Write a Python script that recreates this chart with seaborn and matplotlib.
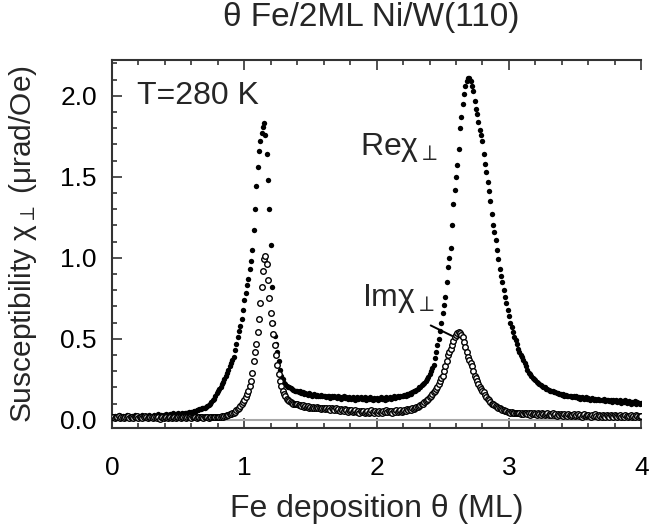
import numpy as np
import pandas as pd
import matplotlib
matplotlib.use('Agg')
import matplotlib.pyplot as plt
from matplotlib.ticker import MultipleLocator
import seaborn as sns

# Re chi_perp (filled dots), one value every 0.01 ML from 0 to 4 ML
re_chi = [
    0.02, 0.01, 0.025, 0.015, 0.02, 0.03, 0.01, 0.02, 0.025, 0.015,
    0.02, 0.03, 0.015, 0.02, 0.01, 0.025, 0.02, 0.03, 0.015, 0.02,
    0.025, 0.015, 0.02, 0.03, 0.02, 0.01, 0.025, 0.02, 0.03, 0.02,
    0.015, 0.025, 0.03, 0.02, 0.025, 0.035, 0.02, 0.03, 0.025, 0.03,
    0.025, 0.035, 0.03, 0.02, 0.035, 0.03, 0.04, 0.025, 0.035, 0.03,
    0.04, 0.03, 0.035, 0.045, 0.035, 0.04, 0.045, 0.04, 0.05, 0.045,
    0.05, 0.05, 0.055, 0.05, 0.06, 0.06, 0.065, 0.065, 0.07, 0.07,
    0.075, 0.08, 0.085, 0.09, 0.10, 0.11, 0.12, 0.13, 0.15, 0.165,
    0.18, 0.19, 0.20, 0.22, 0.235, 0.25, 0.27, 0.29, 0.31, 0.33,
    0.35, 0.37, 0.39, 0.43, 0.47, 0.51, 0.55, 0.58, 0.62, 0.68,
    0.74, 0.78, 0.83, 0.87, 0.93, 0.98, 1.05, 1.17, 1.30, 1.44,
    1.56, 1.66, 1.72, 1.77, 1.81, 1.83, 1.76, 1.64, 1.48, 1.30,
    1.08, 0.82, 0.60, 0.52, 0.47, 0.42, 0.36, 0.31, 0.27, 0.25,
    0.23, 0.22, 0.21, 0.205, 0.20, 0.195, 0.19, 0.185, 0.18, 0.18,
    0.175, 0.17, 0.175, 0.165, 0.17, 0.16, 0.165, 0.16, 0.155, 0.165,
    0.16, 0.15, 0.155, 0.16, 0.145, 0.155, 0.15, 0.145, 0.155, 0.15,
    0.145, 0.15, 0.14, 0.15, 0.145, 0.135, 0.145, 0.14, 0.15, 0.14,
    0.135, 0.145, 0.14, 0.13, 0.14, 0.145, 0.135, 0.14, 0.13, 0.14,
    0.135, 0.13, 0.14, 0.135, 0.125, 0.14, 0.13, 0.135, 0.14, 0.13,
    0.13, 0.14, 0.125, 0.135, 0.13, 0.14, 0.13, 0.125, 0.135, 0.13,
    0.135, 0.125, 0.13, 0.14, 0.13, 0.135, 0.125, 0.14, 0.13, 0.135,
    0.14, 0.13, 0.135, 0.145, 0.135, 0.14, 0.15, 0.14, 0.145, 0.15,
    0.145, 0.155, 0.15, 0.16, 0.155, 0.165, 0.16, 0.17, 0.175, 0.18,
    0.185, 0.19, 0.20, 0.205, 0.215, 0.22, 0.23, 0.24, 0.25, 0.265,
    0.28, 0.30, 0.32, 0.34, 0.38, 0.42, 0.46, 0.50, 0.55, 0.60,
    0.66, 0.71, 0.76, 0.85, 0.94, 1.00, 1.06, 1.20, 1.33, 1.42,
    1.50, 1.57, 1.67, 1.80, 1.87, 1.95, 2.01, 2.06, 2.09, 2.11,
    2.11, 2.09, 2.06, 2.03, 1.97, 1.92, 1.89, 1.84, 1.79, 1.76,
    1.72, 1.64, 1.58, 1.53, 1.47, 1.41, 1.35, 1.27, 1.20, 1.16,
    1.11, 1.05, 0.99, 0.93, 0.89, 0.85, 0.80, 0.76, 0.72, 0.68,
    0.64, 0.60, 0.57, 0.54, 0.51, 0.49, 0.47, 0.44, 0.42, 0.40,
    0.39, 0.37, 0.35, 0.33, 0.31, 0.29, 0.28, 0.27, 0.26, 0.25,
    0.245, 0.235, 0.23, 0.22, 0.215, 0.21, 0.20, 0.20, 0.19, 0.19,
    0.185, 0.18, 0.18, 0.175, 0.17, 0.17, 0.165, 0.165, 0.16, 0.16,
    0.155, 0.16, 0.15, 0.155, 0.145, 0.15, 0.145, 0.15, 0.14, 0.145,
    0.14, 0.145, 0.135, 0.14, 0.13, 0.14, 0.135, 0.13, 0.14, 0.13,
    0.135, 0.125, 0.13, 0.135, 0.125, 0.13, 0.12, 0.13, 0.125, 0.12,
    0.125, 0.12, 0.13, 0.115, 0.12, 0.125, 0.115, 0.12, 0.11, 0.12,
    0.115, 0.12, 0.11, 0.115, 0.12, 0.105, 0.115, 0.11, 0.12, 0.105,
    0.11, 0.115, 0.10, 0.11, 0.105, 0.115, 0.10, 0.11, 0.105, 0.10,
    0.105,
]

# Im chi_perp (open circles), same sampling
im_chi = [
    0.015, 0.02, 0.01, 0.02, 0.015, 0.025, 0.01, 0.015, 0.02, 0.01,
    0.015, 0.02, 0.025, 0.01, 0.02, 0.015, 0.01, 0.02, 0.015, 0.025,
    0.01, 0.015, 0.02, 0.01, 0.02, 0.025, 0.015, 0.01, 0.02, 0.015,
    0.02, 0.01, 0.015, 0.02, 0.01, 0.015, 0.005, 0.02, 0.015, 0.01,
    0.015, 0.02, 0.01, 0.015, 0.02, 0.01, 0.015, 0.02, 0.01, 0.015,
    0.02, 0.015, 0.01, 0.02, 0.015, 0.02, 0.01, 0.015, 0.02, 0.015,
    0.01, 0.02, 0.015, 0.02, 0.01, 0.015, 0.02, 0.015, 0.02, 0.01,
    0.015, 0.02, 0.015, 0.01, 0.02, 0.015, 0.02, 0.015, 0.02, 0.02,
    0.02, 0.015, 0.02, 0.025, 0.02, 0.025, 0.025, 0.03, 0.03, 0.035,
    0.035, 0.04, 0.045, 0.05, 0.06, 0.065, 0.075, 0.085, 0.10, 0.11,
    0.12, 0.14, 0.16, 0.18, 0.21, 0.24, 0.29, 0.36, 0.42, 0.47,
    0.54, 0.62, 0.72, 0.82, 0.92, 0.99, 1.01, 0.96, 0.86, 0.75,
    0.66, 0.60, 0.53, 0.46, 0.40, 0.34, 0.28, 0.24, 0.21, 0.18,
    0.16, 0.145, 0.13, 0.12, 0.115, 0.11, 0.105, 0.10, 0.10, 0.095,
    0.095, 0.09, 0.09, 0.085, 0.09, 0.08, 0.085, 0.08, 0.085, 0.075,
    0.08, 0.075, 0.08, 0.07, 0.075, 0.08, 0.07, 0.075, 0.065, 0.075,
    0.07, 0.065, 0.075, 0.065, 0.07, 0.06, 0.07, 0.065, 0.06, 0.07,
    0.06, 0.065, 0.055, 0.065, 0.06, 0.055, 0.065, 0.06, 0.05, 0.06,
    0.055, 0.06, 0.05, 0.055, 0.06, 0.05, 0.055, 0.045, 0.055, 0.05,
    0.055, 0.045, 0.05, 0.055, 0.045, 0.05, 0.06, 0.05, 0.045, 0.055,
    0.05, 0.045, 0.055, 0.05, 0.045, 0.055, 0.05, 0.06, 0.05, 0.055,
    0.05, 0.055, 0.045, 0.055, 0.05, 0.06, 0.05, 0.055, 0.06, 0.05,
    0.055, 0.06, 0.055, 0.065, 0.06, 0.065, 0.06, 0.07, 0.065, 0.075,
    0.08, 0.08, 0.085, 0.09, 0.095, 0.10, 0.11, 0.115, 0.12, 0.13,
    0.14, 0.15, 0.16, 0.17, 0.18, 0.19, 0.20, 0.22, 0.24, 0.255,
    0.27, 0.30, 0.33, 0.365, 0.40, 0.42, 0.44, 0.46, 0.485, 0.51,
    0.525, 0.535, 0.54, 0.535, 0.525, 0.51, 0.48, 0.45, 0.42, 0.39,
    0.37, 0.35, 0.33, 0.30, 0.27, 0.255, 0.24, 0.22, 0.205, 0.19,
    0.18, 0.17, 0.155, 0.14, 0.13, 0.12, 0.11, 0.10, 0.095, 0.09,
    0.085, 0.08, 0.075, 0.07, 0.065, 0.06, 0.06, 0.055, 0.055, 0.05,
    0.05, 0.045, 0.05, 0.045, 0.04, 0.045, 0.04, 0.045, 0.04, 0.035,
    0.04, 0.035, 0.045, 0.04, 0.035, 0.04, 0.03, 0.04, 0.035, 0.04,
    0.035, 0.03, 0.04, 0.035, 0.03, 0.04, 0.035, 0.03, 0.035, 0.04,
    0.03, 0.035, 0.03, 0.04, 0.03, 0.035, 0.025, 0.035, 0.03, 0.035,
    0.03, 0.025, 0.035, 0.03, 0.025, 0.035, 0.03, 0.025, 0.03, 0.035,
    0.025, 0.03, 0.035, 0.025, 0.03, 0.02, 0.03, 0.035, 0.025, 0.03,
    0.03, 0.025, 0.02, 0.03, 0.025, 0.035, 0.025, 0.02, 0.03, 0.025,
    0.02, 0.03, 0.025, 0.02, 0.03, 0.025, 0.02, 0.03, 0.025, 0.02,
    0.03, 0.025, 0.02, 0.025, 0.03, 0.02, 0.025, 0.02, 0.03, 0.025,
    0.02, 0.025, 0.03, 0.02, 0.025, 0.02, 0.03, 0.025, 0.02, 0.025,
    0.025,
]

# deposition grid (uniform, 0..4 ML)
theta = np.linspace(0, 4, len(re_chi))

x_ticks = [0, 1, 2, 3, 4]
y_ticks = [0.0, 0.5, 1.0, 1.5, 2.0]

sns.set_style('ticks')
plt.rcParams['font.family'] = ['Liberation Sans', 'DejaVu Sans']
plt.rcParams['mathtext.fontset'] = 'custom'
plt.rcParams['mathtext.rm'] = 'Liberation Sans'
plt.rcParams['mathtext.it'] = 'Liberation Sans'
plt.rcParams['mathtext.default'] = 'regular'

df = pd.DataFrame({'theta': theta, 're': re_chi, 'im': im_chi})

fig = plt.figure(figsize=(6.59, 5.27), dpi=100)
ax = fig.add_axes([0.170, 0.188, 0.803, 0.698])

ax.axhline(0, color='#a8a8a8', lw=1.5, zorder=1)
sns.scatterplot(data=df, x='theta', y='re', s=15, color='black',
                linewidth=0, ax=ax, zorder=3)
sns.scatterplot(data=df, x='theta', y='im', s=16, color='white',
                edgecolor='black', linewidth=1.0, ax=ax, zorder=4)

ax.set_xlim(0, 4)
ax.set_ylim(-0.05, 2.22)
ax.set_xticks(x_ticks)
ax.set_xticklabels([str(t) for t in x_ticks])
ax.set_yticks(y_ticks)
ax.set_yticklabels(['%.1f' % t for t in y_ticks])
ax.xaxis.set_minor_locator(MultipleLocator(0.2))
ax.yaxis.set_minor_locator(MultipleLocator(0.1))
ax.tick_params(which='both', direction='in', top=True, right=False,
               colors='#333333', labelcolor='black', width=1.2)
ax.tick_params(which='major', length=7)
ax.tick_params(which='minor', length=3.5)
ax.tick_params(axis='y', labelsize=19, pad=11)
ax.tick_params(axis='x', labelsize=19, pad=20)
for side in ['left', 'top', 'bottom']:
    ax.spines[side].set_color('#333333')
    ax.spines[side].set_linewidth(1.5)
ax.spines['right'].set_visible(False)

ax.set_xlabel('Fe deposition θ (ML)', fontsize=23)
ax.xaxis.set_label_coords(0.5, -0.18)
ax.set_ylabel(r'Susceptibility $\chi_{\perp}$ ($\mu$rad/Oe)', fontsize=21.5)
ax.yaxis.set_label_coords(-0.138, 0.5)

fig.text(0.563, 0.966, 'θ Fe/2ML Ni/W(110)', fontsize=24,
         ha='center', va='center')

ax.text(0.19, 1.95, 'T=280 K', fontsize=23, va='baseline')
ax.text(1.875, 1.636, r'Re$\chi_{\perp}$', fontsize=23, va='baseline')
ax.text(1.89, 0.70, r'Im$\chi_{\perp}$', fontsize=23, va='baseline')
ax.annotate('', xy=(2.59, 0.51), xytext=(2.39, 0.59),
            arrowprops=dict(arrowstyle='-', lw=1.4, color='black'))

fig.savefig('out.png', dpi=100)
